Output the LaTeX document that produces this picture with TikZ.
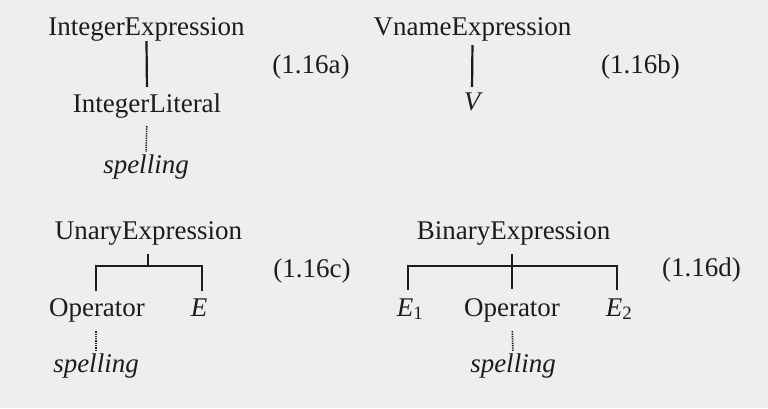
\documentclass[tikz,border=0pt]{standalone}
\usepackage{fontspec}
\setmainfont{Liberation Serif}
\usetikzlibrary{calc}
\definecolor{paper}{HTML}{EEEEEE}
\definecolor{ink}{HTML}{1C1C1C}
\tikzset{
 lbl/.style={inner sep=0pt,anchor=base,text height=19pt,text depth=6pt,text=ink},
 branch/.style={draw=ink,line width=2.2pt},
 spell/.style={draw=ink,line width=1.6pt,dash pattern=on 1.3pt off 1pt},
}
\begin{document}
\begin{tikzpicture}[x=1pt,y=-1pt,font=\fontsize{27}{32}\selectfont]
 \fill[paper](0,0)rectangle(768,408);
 % (1.16a) and (1.16b)
 \node[lbl](ie)at(146.5,35){IntegerExpression};
 \node[lbl](il)at(147,112){IntegerLiteral};
 \node[lbl](sa)at(146,173){\itshape spelling};
 \draw[branch,shorten >=6pt](ie.south)--(il.north);
 \draw[spell,shorten <=8pt,shorten >=2pt](il.south)--(sa.north);
 \node[lbl](ve)at(472.5,35){VnameExpression};
 \node[lbl](vv)at(472,110){\itshape V};
 \draw[branch,shorten <=4pt,shorten >=4pt](ve.south)--(vv.north);
 % (1.16c)
 \node[lbl](ue)at(148.5,239){UnaryExpression};
 \node[lbl](uo)at(97,316){Operator};
 \node[lbl](ux)at(199,316){\itshape E};
 \node[lbl](us)at(96,372){\itshape spelling};
 \coordinate(uj)at(148,266);
 \draw[branch,shorten <=9pt](uj|-ue.south)--(uj);
 \draw[branch,shorten <=6pt,shorten >=6pt]([xshift=-1pt]uo.north)--([xshift=-1pt]uo.north|-uj)--([xshift=3pt]ux.north|-uj)--([xshift=3pt]ux.north);
 \draw[spell,shorten <=9pt,shorten >=1pt]([xshift=-1pt]uo.south)--(us.north);
 % (1.16d)
 \node[lbl](be)at(513.5,239){BinaryExpression};
 \node[lbl](bo)at(512,316){Operator};
 \node[lbl](b1)at(405,316){\itshape E\rlap{\textsubscript{\upshape 1}}};
 \node[lbl](b2)at(614,316){\itshape E\rlap{\textsubscript{\upshape 2}}};
 \node[lbl](bs)at(513,372){\itshape spelling};
 \coordinate(bj)at(512,266);
 \draw[branch,shorten <=9pt,shorten >=8pt](bj|-be.south)--(bo.north);
 \draw[branch,shorten <=7pt,shorten >=7pt]([xshift=3pt]b1.north)--([xshift=3pt]b1.north|-bj)--([xshift=3pt]b2.north|-bj)--([xshift=3pt]b2.north);
 \draw[spell,shorten <=9pt,shorten >=2pt](bo.south)--(bs.north);
 % equation numbers
 \foreach \n/\x/\y/\t in {eqa/311/73/a,eqb/640.5/73/b,eqc/312/277/c,eqd/701.5/276/d}{
  \node[lbl](\n)at(\x,\y){(1.16\t)};}
\end{tikzpicture}
\end{document}
